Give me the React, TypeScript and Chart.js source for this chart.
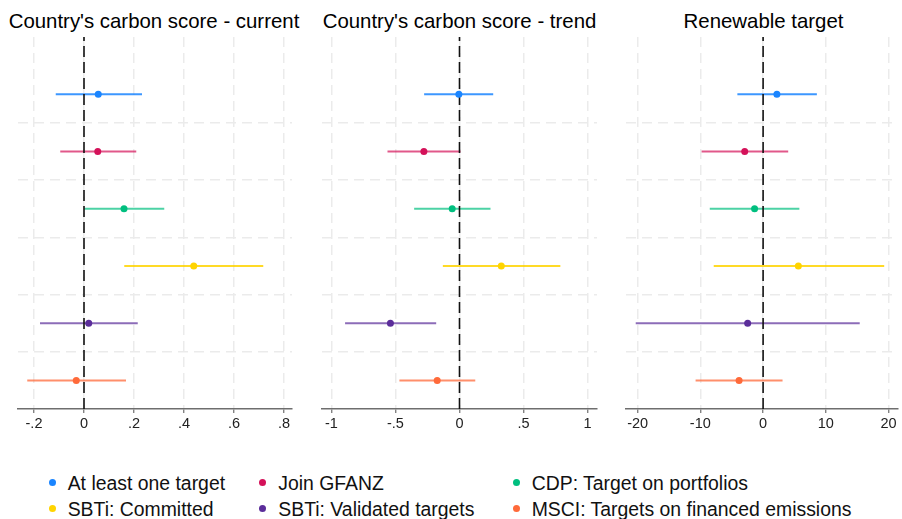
import React, { useEffect, useRef } from "react";
import { Chart, registerables } from "chart.js";

Chart.register(...registerables);

const FONT = '"Liberation Sans", Arial, Helvetica, sans-serif';

// ---- data ----
const categories = [
  "At least one target",
  "Join GFANZ",
  "CDP: Target on portfolios",
  "SBTi: Committed",
  "SBTi: Validated targets",
  "MSCI: Targets on financed emissions",
];

const panelTitles = [
  "Country's carbon score - current",
  "Country's carbon score - trend",
  "Renewable target",
];

const currentEst = [0.057, 0.055, 0.16, 0.439, 0.019, -0.031];
const currentLo = [-0.113, -0.095, 0.001, 0.161, -0.176, -0.227];
const currentHi = [0.232, 0.209, 0.321, 0.717, 0.215, 0.168];

const trendEst = [-0.005, -0.278, -0.057, 0.326, -0.539, -0.174];
const trendLo = [-0.276, -0.562, -0.354, -0.13, -0.893, -0.469];
const trendHi = [0.263, 0.008, 0.242, 0.787, -0.182, 0.123];

const renewEst = [2.2, -2.93, -1.36, 5.62, -2.46, -3.83];
const renewLo = [-4.1, -9.8, -8.5, -7.87, -20.3, -10.76];
const renewHi = [8.57, 4.0, 5.78, 19.3, 15.4, 3.1];

const currentTicks = [-0.2, 0, 0.2, 0.4, 0.6, 0.8];
const trendTicks = [-1, -0.5, 0, 0.5, 1];
const renewTicks = [-20, -10, 0, 10, 20];

// ---- styles ----
const dotColors = ["#1a85ff", "#d41159", "#00bf7f", "#ffd400", "#5b2d9a", "#ff6a3a"];
const lineColors = [
  "rgba(26,133,255,0.85)",
  "rgba(212,17,89,0.7)",
  "rgba(0,191,127,0.7)",
  "rgba(255,212,0,0.85)",
  "rgba(91,45,154,0.7)",
  "rgba(255,106,58,0.75)",
];

const fmt = (v: number) => {
  if (v === 0) return "0";
  const s = String(Math.round(v * 1000) / 1000);
  return s.replace(/^(-?)0\./, "$1.");
};

type PanelProps = {
  title: string;
  est: number[];
  lo: number[];
  hi: number[];
  ticks: number[];
  min: number;
  max: number;
  left: number;
  width: number;
  padL: number;
  padR: number;
  titleLeft: number;
  titleWidth: number;
};

const CANVAS_H = 440;

function Panel(p: PanelProps) {
  const ref = useRef<HTMLCanvasElement>(null);
  useEffect(() => {
    if (!ref.current) return;
    const n = categories.length;
    const yPos = categories.map((_, i) => n - i);
    const ciSets = categories.map((c, i) => ({
      label: c,
      data: [
        { x: p.lo[i], y: yPos[i] },
        { x: p.hi[i], y: yPos[i] },
      ],
      borderColor: lineColors[i],
      backgroundColor: lineColors[i],
      borderWidth: 2,
      pointRadius: 0,
      showLine: true,
      fill: false,
    }));
    const zero = {
      label: "zero",
      data: [
        { x: 0, y: 0.5 },
        { x: 0, y: 7 },
      ],
      borderColor: "#111111",
      borderWidth: 1.6,
      borderDash: [11, 5],
      pointRadius: 0,
      showLine: true,
      fill: false,
    };
    const pts = {
      label: "estimates",
      data: p.est.map((v, i) => ({ x: v, y: yPos[i] })),
      pointBackgroundColor: dotColors,
      pointBorderColor: dotColors,
      pointBorderWidth: 0,
      pointRadius: 3.5,
      showLine: false,
    };
    const ticks = p.ticks;
    const chart = new Chart(ref.current, {
      type: "scatter",
      data: { datasets: [pts, zero, ...ciSets] as any },
      options: {
        animation: false,
        responsive: false,
        maintainAspectRatio: false,
        layout: { padding: { left: p.padL, right: p.padR, top: 37, bottom: 5.6 } },
        plugins: { legend: { display: false }, tooltip: { enabled: false }, title: { display: false } },
        scales: {
          x: {
            type: "linear",
            min: p.min,
            max: p.max,
            afterBuildTicks: (s: any) => {
              s.ticks = ticks.map((v) => ({ value: v }));
            },
            ticks: {
              callback: (v: any) => fmt(Number(v)),
              font: { family: FONT, size: 14.5 },
              color: "#222222",
              padding: 2,
              maxRotation: 0,
              autoSkip: false,
            },
            grid: {
              color: "#ebebeb",
              lineWidth: 1.5,
              tickColor: "#6e6e6e",
              tickLength: 4,
              tickWidth: 1.2,
              drawTicks: true,
            },
            border: { display: true, color: "#6e6e6e", width: 1.5, dash: [10, 6] },
          },
          y: {
            type: "linear",
            min: 0.5,
            max: 7,
            afterBuildTicks: (s: any) => {
              s.ticks = [1.5, 2.5, 3.5, 4.5, 5.5].map((v) => ({ value: v }));
            },
            ticks: { display: false },
            grid: { color: "#ebebeb", lineWidth: 1.5, drawTicks: false },
            border: { display: false, dash: [10, 6] },
          },
        },
      } as any,
    });
    return () => chart.destroy();
  }, []);
  return (
    <>
      <div
        style={{
          position: "absolute",
          left: p.titleLeft,
          width: p.titleWidth,
          top: 9,
          lineHeight: "24px",
          fontFamily: FONT,
          fontSize: 20.4,
          color: "#000",
          textAlign: "center",
          whiteSpace: "nowrap",
        }}
      >
        {p.title}
      </div>
      <canvas
        ref={ref}
        width={p.width}
        height={CANVAS_H}
        style={{ position: "absolute", left: p.left, top: 0, width: p.width, height: CANVAS_H }}
      />
    </>
  );
}

const legendDotX = [52.3, 262.7, 516];
const legendTextX = [67.7, 278.3, 531.7];
const legendRowY = [482.7, 508.7];

export default function App() {
  return (
    <div
      style={{
        position: "fixed",
        left: 0,
        top: 0,
        width: 902,
        height: 519,
        background: "#ffffff",
        overflow: "hidden",
      }}
    >
      <Panel
        title={panelTitles[0]}
        est={currentEst}
        lo={currentLo}
        hi={currentHi}
        ticks={currentTicks}
        min={-0.264}
        max={0.832}
        left={0}
        width={307}
        padL={18}
        padR={15}
        titleLeft={0}
        titleWidth={308}
      />
      <Panel
        title={panelTitles[1]}
        est={trendEst}
        lo={trendLo}
        hi={trendHi}
        ticks={trendTicks}
        min={-1.073}
        max={1.073}
        left={307}
        width={304}
        padL={15}
        padR={14}
        titleLeft={310}
        titleWidth={299}
      />
      <Panel
        title={panelTitles[2]}
        est={renewEst}
        lo={renewLo}
        hi={renewHi}
        ticks={renewTicks}
        min={-21.85}
        max={21.5}
        left={611}
        width={291}
        padL={15}
        padR={1.3}
        titleLeft={626}
        titleWidth={275}
      />
      {categories.map((c, i) => {
        const col = i % 3;
        const row = Math.floor(i / 3);
        const cy = legendRowY[row];
        return (
          <React.Fragment key={c}>
            <div
              style={{
                position: "absolute",
                left: legendDotX[col] - 3.5,
                top: cy - 3.5,
                width: 7,
                height: 7,
                borderRadius: "50%",
                background: dotColors[i],
              }}
            />
            <div
              style={{
                position: "absolute",
                left: legendTextX[col],
                top: cy - 13,
                lineHeight: "26px",
                fontFamily: FONT,
                fontSize: 19.4,
                color: "#111",
                whiteSpace: "nowrap",
              }}
            >
              {c}
            </div>
          </React.Fragment>
        );
      })}
    </div>
  );
}
